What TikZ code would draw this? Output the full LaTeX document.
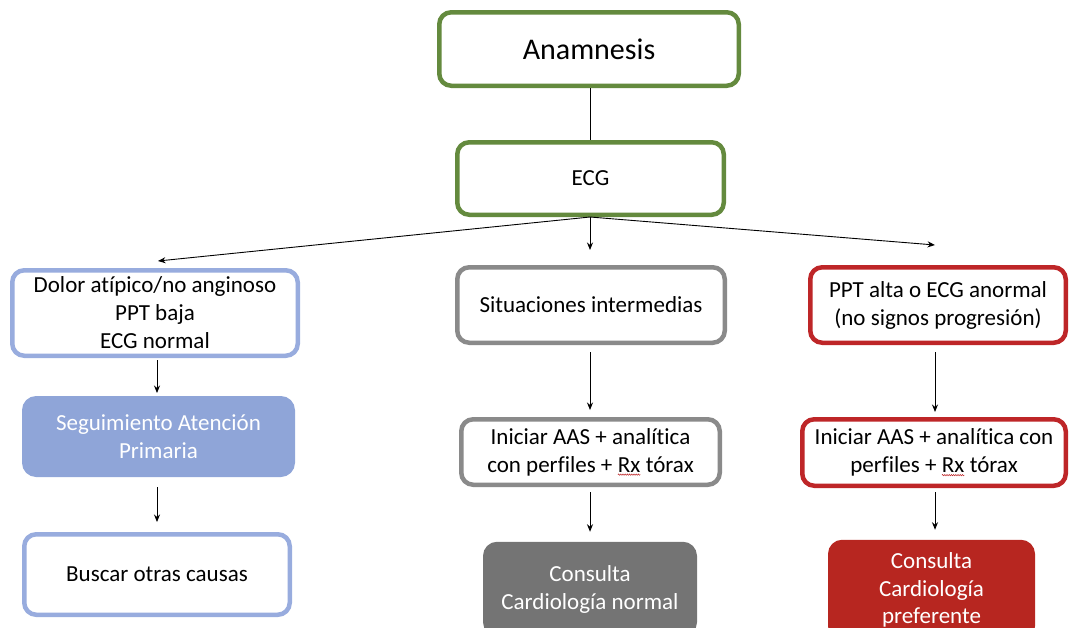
\documentclass[tikz,border=0pt]{standalone}
\usepackage{fontspec}
\setmainfont[Ligatures=NoCommon]{Carlito}
\usetikzlibrary{arrows.meta,decorations.pathmorphing}

\definecolor{frameGreen}{RGB}{100,138,62}
\definecolor{frameBlue}{RGB}{152,172,222}
\definecolor{fillBlue}{RGB}{143,165,216}
\definecolor{frameGray}{RGB}{138,138,138}
\definecolor{fillGray}{RGB}{116,116,116}
\definecolor{frameRed}{RGB}{190,38,40}
\definecolor{fillRed}{RGB}{183,38,32}

% red wavy spell-check underline under a word
\newcommand{\spellmark}[1]{\tikz[baseline=(w.base),x=1pt,y=1pt]{%
  \node[shape=rectangle,inner sep=0pt,outer sep=0pt,minimum width=0pt,minimum height=0pt,
        draw=none,fill=none,rounded corners=0pt,line width=0.4pt] (w) {#1};
  \draw[draw=frameRed,line width=0.5pt,rounded corners=0pt,decorate,
        decoration={snake,amplitude=0.7pt,segment length=2.2pt}]
    ([yshift=-2.5pt]w.base west) -- ([yshift=-2.5pt]w.base east);}}

\begin{document}
\begin{tikzpicture}[x=1pt,y=-1pt,
  box/.style={draw,rounded corners=12pt,line width=4.5pt,fill=white,align=center,
    inner sep=0pt,font=\fontsize{23}{28}\selectfont},
  greenbox/.style={box,draw=frameGreen},
  bluebox/.style={box,draw=frameBlue},
  bluefill/.style={box,draw=fillBlue,fill=fillBlue,text=white},
  graybox/.style={box,draw=frameGray},
  grayfill/.style={box,draw=fillGray,fill=fillGray,text=white},
  redbox/.style={box,draw=frameRed},
  redfill/.style={box,draw=fillRed,fill=fillRed,text=white},
  conn/.style={line width=0.9pt,black},
  arr/.style={conn,-{Stealth[length=7.5pt,width=6pt]}}]

\useasboundingbox (0,0) rectangle (1070,627);

% top of the chart
\node[greenbox,minimum width=299.5pt,minimum height=73.5pt,font=\fontsize{30}{36}\selectfont]
  (anam) at (589,49) {Anamnesis};
\node[greenbox,minimum width=266.5pt,minimum height=72.5pt] (ecg) at (590.5,178.5) {ECG};

% left column
\node[bluebox,minimum width=285.5pt,minimum height=85.5pt] (b1) at (155,313)
  {Dolor atípico/no anginoso\\PPT baja\\ECG normal};
\node[bluefill,minimum width=268.5pt,minimum height=76.5pt] (b2) at (158.5,436.5)
  {Seguimiento Atención\\Primaria};
\node[bluebox,minimum width=265.5pt,minimum height=80.5pt] (b3) at (157,574.5)
  {Buscar otras causas};

% middle column
\node[graybox,minimum width=267.5pt,minimum height=75.5pt] (m1) at (591,305)
  {Situaciones intermedias};
\node[graybox,minimum width=258.5pt,minimum height=65.5pt] (m2) at (590.5,452)
  {Iniciar AAS + analítica\\con perfiles + \spellmark{Rx} tórax};
\node[grayfill,minimum width=209.5pt,minimum height=90pt] (m3) at (590,589)
  {Consulta\\Cardiología normal};

% right column
\node[redbox,minimum width=255.5pt,minimum height=75.5pt] (r1) at (938,305)
  {PPT alta o ECG anormal\\(no signos progresión)};
\node[redbox,minimum width=263.5pt,minimum height=66.5pt] (r2) at (934,452.5)
  {Iniciar AAS + analítica con\\perfiles + \spellmark{Rx} tórax};
\node[redfill,minimum width=202.5pt,minimum height=96pt,font=\fontsize{23}{27.5}\selectfont]
  (r3) at (931.5,590) {Consulta\\Cardiología\\preferente};

% column axes and branch ends
\coordinate (cl) at (157,0);
\coordinate (cm) at (590,0);
\coordinate (cr) at (935,0);
\coordinate (tl) at (158,261);
\coordinate (tm) at (590,250);
\coordinate (tr) at (935,245);

% connectors
\draw[conn] (anam.south -| cm) -- (ecg.north -| cm);
\draw[arr] (ecg.south -| cm) -- (tl);
\draw[arr] (ecg.south -| cm) -- (tm);
\draw[arr] (ecg.south -| cm) -- (tr);

\draw[arr,shorten <=2pt,shorten >=3pt] (b1.south -| cl) -- (b2.north -| cl);
\draw[arr,shorten <=10pt,shorten >=10pt] (b2.south -| cl) -- (b3.north -| cl);

\draw[arr,shorten <=7pt,shorten >=7pt] (m1.south -| cm) -- (m2.north -| cm);
\draw[arr,shorten <=5pt,shorten >=10pt] (m2.south -| cm) -- (m3.north -| cm);

\draw[arr,shorten <=7pt,shorten >=5pt] (r1.south -| cr) -- (r2.north -| cr);
\draw[arr,shorten <=4pt,shorten >=10pt] (r2.south -| cr) -- (r3.north -| cr);
\end{tikzpicture}
\end{document}
